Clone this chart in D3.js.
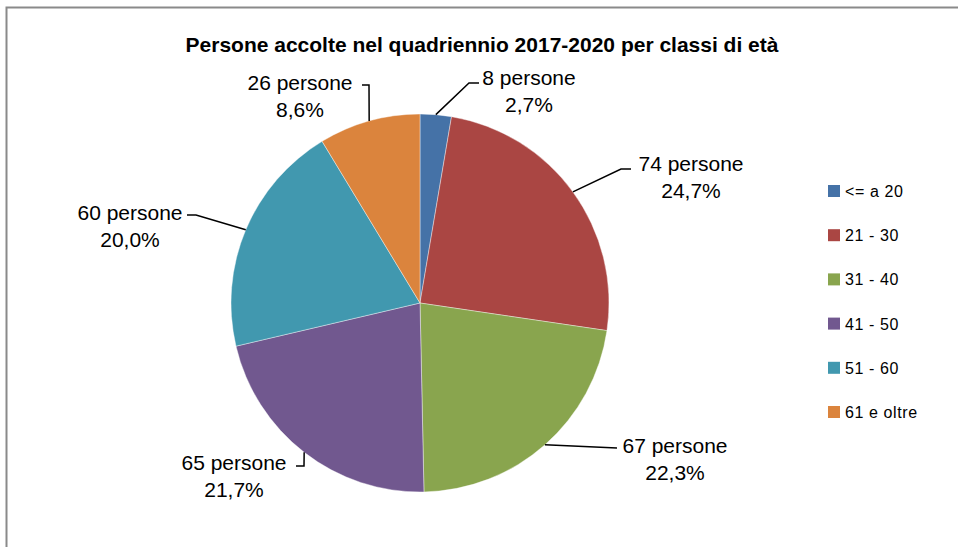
<!DOCTYPE html>
<html>
<head>
<meta charset="utf-8">
<script src="https://cdn.jsdelivr.net/npm/d3@7"></script>
<style>
  body { margin: 0; background: #fff; }
  text { font-family: "Liberation Sans", Arial, sans-serif; fill: #000; }
</style>
</head>
<body>
<div id="chart"></div>
<script>
// dati
const classi = ["<= a 20", "21 - 30", "31 - 40", "41 - 50", "51 - 60", "61 e oltre"];
const persone = [8, 74, 67, 65, 60, 26];
const percentuali = ["2,7%", "24,7%", "22,3%", "21,7%", "20,0%", "8,6%"];
const colori = ["#4572A7", "#AA4643", "#89A54E", "#71588F", "#4198AF", "#DB843D"];

const width = 958, height = 547;
const cx = 420, cy = 303, radius = 189;

// posizione etichette (centro testo) e gomito della linea guida
const labelLayout = [
  { lx: 529, ly: 85, elbow: [469, 83], end: [479, 83] },
  { lx: 691, ly: 171, elbow: [621, 169], end: [631, 169] },
  { lx: 675, ly: 453, elbow: [617, 448], end: [617, 448] },
  { lx: 234, ly: 470, elbow: [304, 466], end: [296, 466] },
  { lx: 130, ly: 220, elbow: [196, 215], end: [187, 215] },
  { lx: 300, ly: 90, elbow: [369, 85], end: [362, 85] }
];

const svg = d3.select("#chart")
  .append("svg")
  .attr("width", width)
  .attr("height", height);

// cornice
svg.append("rect")
  .attr("x", 6.5)
  .attr("y", 7.5)
  .attr("width", 1000)
  .attr("height", 1000)
  .attr("fill", "none")
  .attr("stroke", "#8a8a8a")
  .attr("stroke-width", 2);

svg.append("text")
  .attr("x", 482)
  .attr("y", 52)
  .attr("text-anchor", "middle")
  .style("font-size", "21px")
  .style("font-weight", "bold")
  .text("Persone accolte nel quadriennio 2017-2020 per classi di età");

const pie = d3.pie().sort(null).value(d => d);
const arcs = pie(persone);
const arc = d3.arc().innerRadius(0).outerRadius(radius);

const g = svg.append("g").attr("transform", `translate(${cx},${cy})`);

g.selectAll("path")
  .data(arcs)
  .join("path")
  .attr("d", arc)
  .attr("fill", (d, i) => colori[i])
  .attr("stroke", "#fff")
  .attr("stroke-width", 0.4);

// linee guida
arcs.forEach((d, i) => {
  const a = (d.startAngle + d.endAngle) / 2;
  const sx = cx + radius * Math.sin(a);
  const sy = cy - radius * Math.cos(a);
  const L = labelLayout[i];
  svg.append("polyline")
    .attr("points", [[sx, sy], L.elbow, L.end].map(p => p.join(",")).join(" "))
    .attr("fill", "none")
    .attr("stroke", "#000")
    .attr("stroke-width", 1.5);

  const t = svg.append("text")
    .attr("x", L.lx)
    .attr("y", L.ly)
    .attr("text-anchor", "middle")
    .style("font-size", "21px");
  t.append("tspan").attr("x", L.lx).text(persone[i] + " persone");
  t.append("tspan").attr("x", L.lx).attr("dy", 27).text(percentuali[i]);
});

// legenda
const legend = svg.append("g");
const ly = d3.scalePoint().domain(classi).range([191, 412]);
classi.forEach((c, i) => {
  legend.append("rect")
    .attr("x", 828)
    .attr("y", ly(c) - 6)
    .attr("width", 12)
    .attr("height", 12)
    .attr("fill", colori[i]);
  legend.append("text")
    .attr("x", 845)
    .attr("y", ly(c) + 6)
    .style("font-size", "16px")
    .style("letter-spacing", "0.6px")
    .text(c);
});
</script>
</body>
</html>
